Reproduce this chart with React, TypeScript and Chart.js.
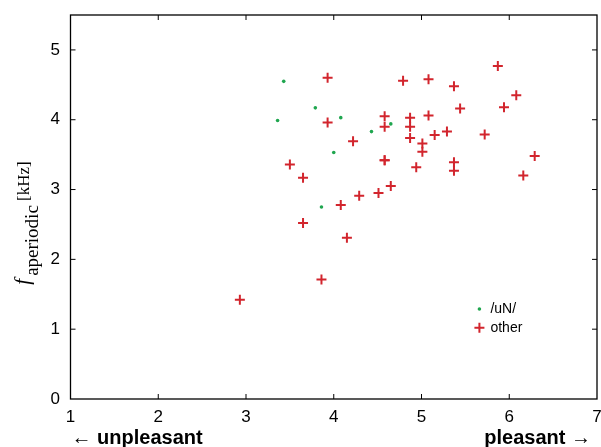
import { useEffect, useRef } from 'react';
import { Chart, registerables } from 'chart.js';

Chart.register(...registerables);

const seriesLabels = ['/uN/', 'other'];

const unX = [3.36, 3.43, 3.79, 4.08, 4.65, 4.43, 4.0, 3.86];
const unY = [3.99, 4.55, 4.17, 4.03, 3.94, 3.83, 3.53, 2.75];

const otherX = [
  3.93, 4.79, 5.08, 5.37, 5.87, 6.08, 5.94, 5.44, 3.93, 4.58, 4.58, 4.87, 4.87,
  5.08, 4.22, 4.87, 5.15, 5.29, 5.72, 5.01, 5.01, 3.5, 3.65, 4.58, 4.58, 4.94,
  5.37, 5.37, 6.29, 6.16, 4.65, 4.51, 4.29, 4.08, 3.65, 4.15, 3.86, 2.93,
];
const otherY = [
  4.6, 4.56, 4.58, 4.48, 4.77, 4.35, 4.18, 4.16, 3.96, 4.05, 3.9, 4.03, 3.9,
  4.06, 3.69, 3.74, 3.78, 3.83, 3.79, 3.66, 3.54, 3.36, 3.17, 3.42, 3.42, 3.32,
  3.39, 3.27, 3.48, 3.2, 3.05, 2.95, 2.91, 2.78, 2.52, 2.31, 1.71, 1.42,
];

const xTicks = [1, 2, 3, 4, 5, 6, 7];
const yTicks = [0, 1, 2, 3, 4, 5];
const xAnnotLeft = '\u2190 unpleasant';
const xAnnotRight = 'pleasant \u2192';
const yTitleMain = 'f';
const yTitleSub = 'aperiodic';
const yTitleRest = ' [kHz]';

const RED = '#d2252d';
const GREEN = '#1fa64f';
const SANS = '"Liberation Sans", Arial, Helvetica, sans-serif';
const SERIF = '"Liberation Serif", "Times New Roman", serif';

const decorPlugin = {
  id: 'decor',
  afterDraw(chart: any) {
    const { ctx, chartArea, scales } = chart;
    const { left, right, top, bottom } = chartArea;
    const xs = scales.x;
    const ys = scales.y;
    ctx.save();
    // frame
    ctx.strokeStyle = '#000';
    ctx.lineWidth = 1.3;
    ctx.strokeRect(left, top, right - left, bottom - top);
    // inward ticks
    const tl = 5;
    ctx.lineWidth = 1;
    ctx.beginPath();
    xTicks.slice(1, -1).forEach((v) => {
      const px = xs.getPixelForValue(v);
      ctx.moveTo(px, bottom);
      ctx.lineTo(px, bottom - tl);
      ctx.moveTo(px, top);
      ctx.lineTo(px, top + tl);
    });
    yTicks.slice(1).forEach((v) => {
      const py = ys.getPixelForValue(v);
      ctx.moveTo(left, py);
      ctx.lineTo(left + tl, py);
      ctx.moveTo(right, py);
      ctx.lineTo(right - tl, py);
    });
    ctx.stroke();

    // x annotations
    ctx.fillStyle = '#000';
    ctx.font = `bold 20px ${SANS}`;
    ctx.textBaseline = 'alphabetic';
    ctx.textAlign = 'left';
    ctx.fillText(xAnnotLeft, left + 1, 444);
    ctx.textAlign = 'right';
    ctx.fillText(xAnnotRight, right - 6, 444);

    // y title
    ctx.save();
    ctx.translate(29, 223);
    ctx.rotate(-Math.PI / 2);
    ctx.textAlign = 'left';
    const fMain = `italic 21px ${SERIF}`;
    const fSub = `19px ${SERIF}`;
    const fRest = `17px ${SERIF}`;
    ctx.font = fMain;
    const w1 = ctx.measureText(yTitleMain).width;
    ctx.font = fSub;
    const w2 = ctx.measureText(yTitleSub).width;
    ctx.font = fRest;
    const w3 = ctx.measureText(yTitleRest).width;
    let x0 = -(w1 + w2 + w3 + 3) / 2;
    ctx.font = fMain;
    ctx.fillText(yTitleMain, x0, 0);
    x0 += w1 + 3;
    ctx.font = fSub;
    ctx.fillText(yTitleSub, x0, 9);
    x0 += w2;
    ctx.font = fRest;
    ctx.fillText(yTitleRest, x0, 0);
    ctx.restore();

    // legend
    const lx = xs.getPixelForValue(5.66);
    const ly1 = ys.getPixelForValue(1.29);
    const ly2 = ys.getPixelForValue(1.02);
    ctx.fillStyle = GREEN;
    ctx.beginPath();
    ctx.arc(lx, ly1, 1.8, 0, Math.PI * 2);
    ctx.fill();
    ctx.strokeStyle = RED;
    ctx.lineWidth = 2;
    ctx.beginPath();
    ctx.moveTo(lx - 5, ly2);
    ctx.lineTo(lx + 5, ly2);
    ctx.moveTo(lx, ly2 - 5);
    ctx.lineTo(lx, ly2 + 5);
    ctx.stroke();
    ctx.fillStyle = '#000';
    ctx.font = `14px ${SANS}`;
    ctx.textAlign = 'left';
    ctx.textBaseline = 'middle';
    ctx.fillText(seriesLabels[0], lx + 11, ly1);
    ctx.fillText(seriesLabels[1], lx + 11, ly2);
    ctx.restore();
  },
};

export default function App() {
  const ref = useRef<HTMLCanvasElement | null>(null);
  useEffect(() => {
    document.body.style.margin = '0';
    const canvas = ref.current;
    if (!canvas) return;
    const chart = new Chart(canvas, {
      type: 'scatter',
      data: {
        datasets: [
          {
            label: seriesLabels[1],
            data: otherX.map((x, i) => ({ x, y: otherY[i] })),
            pointStyle: 'cross',
            pointRadius: 5,
            borderWidth: 2,
            borderColor: RED,
            backgroundColor: RED,
          },
          {
            label: seriesLabels[0],
            data: unX.map((x, i) => ({ x, y: unY[i] })),
            pointStyle: 'circle',
            pointRadius: 1.8,
            borderWidth: 0,
            backgroundColor: GREEN,
            borderColor: GREEN,
          },
        ],
      },
      options: {
        animation: false,
        responsive: false,
        devicePixelRatio: 1,
        layout: { autoPadding: false, padding: { top: 15, right: 4, left: 0, bottom: 0 } },
        plugins: {
          legend: { display: false },
          tooltip: { enabled: false },
        },
        scales: {
          x: {
            type: 'linear',
            min: 1,
            max: 7,
            border: { display: false },
            grid: { display: false, drawTicks: false },
            afterBuildTicks: (s: any) => {
              s.ticks = xTicks.map((v) => ({ value: v }));
            },
            afterFit: (s: any) => {
              s.height = 48;
              s.paddingLeft = 0;
              s.paddingRight = 0;
            },
            ticks: {
              color: '#000',
              padding: 8,
              maxRotation: 0,
              font: { family: SANS, size: 17 },
            },
          },
          y: {
            type: 'linear',
            min: 0,
            max: 5.5,
            border: { display: false },
            grid: { display: false, drawTicks: false },
            afterBuildTicks: (s: any) => {
              s.ticks = yTicks.map((v) => ({ value: v }));
            },
            afterFit: (s: any) => {
              s.width = 70.5;
              s.paddingTop = 0;
              s.paddingBottom = 0;
            },
            ticks: {
              color: '#000',
              padding: 10.5,
              font: { family: SANS, size: 17 },
            },
          },
        },
      },
      plugins: [decorPlugin],
    });
    return () => chart.destroy();
  }, []);
  return (
    <div style={{ width: 601, height: 447 }}>
      <canvas ref={ref} width={601} height={447} style={{ display: 'block' }} />
    </div>
  );
}
